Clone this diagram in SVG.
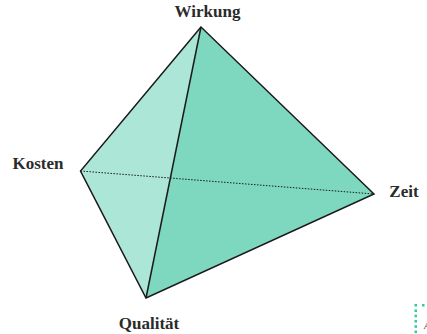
<svg xmlns="http://www.w3.org/2000/svg" width="427" height="334" viewBox="0 0 427 334">
<style>
.l{font-family:"Liberation Serif","DejaVu Serif",serif;font-weight:700;font-size:17px;fill:#2b2b2b;text-anchor:middle}
.e{fill:none;stroke:#1a1a1a;stroke-width:1.5;stroke-linejoin:miter}
</style>
<rect width="427" height="334" fill="#fff"/>
<g id="faces">
<polygon points="201,27 80.500,171 146,298" fill="#ace6d6"/>
<polygon points="201,27 374,194 146,298" fill="#7ed8bf"/>
</g>
<g id="connectors">
<path class="e" d="M201,27 L80.500,171 L146,298 L374,194 Z"/>
<path class="e" d="M201,27 L146,298"/>
<path d="M80.500,171 L374,194" fill="none" stroke="#1a1a1a" stroke-width="1" stroke-dasharray="1.500 1.500"/>
</g>
<g id="wirkung"><text class="l" x="207.500" y="17">Wirkung</text></g>
<g id="kosten"><text class="l" x="38" y="169">Kosten</text></g>
<g id="zeit"><text class="l" x="404" y="197">Zeit</text></g>
<g id="qualitaet"><text class="l" x="149" y="329">Qualität</text></g>
<g id="corner" fill="#2ecb9f">
<rect x="414.500" y="304" width="2.500" height="2.500"/>
<rect x="422" y="304" width="2.500" height="2.500"/>
<rect x="414.500" y="309.500" width="2.500" height="2.500"/>
<rect x="414.500" y="314.700" width="2.500" height="2.500"/>
<rect x="414.500" y="320" width="2.500" height="2.500"/>
<rect x="414.500" y="325.300" width="2.500" height="2.500"/>
<rect x="414.500" y="330.600" width="2.500" height="2.500"/>
<text x="424" y="329" font-family="Liberation Serif,serif" font-style="italic" font-size="10" fill="#555">A</text>
</g>
</svg>
